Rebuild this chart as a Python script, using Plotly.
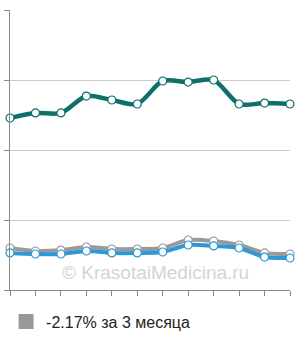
import plotly.graph_objects as go

months = list(range(12))
teal = [2.457, 2.529, 2.529, 2.771, 2.714, 2.657, 2.986, 2.971, 3.0, 2.657, 2.671, 2.657]
gray = [0.60, 0.557, 0.571, 0.614, 0.586, 0.586, 0.60, 0.714, 0.70, 0.643, 0.529, 0.514]
blue = [0.529, 0.514, 0.514, 0.557, 0.529, 0.529, 0.543, 0.643, 0.629, 0.60, 0.471, 0.457]
legend_label = "-2.17% за 3 месяца"
watermark = "© KrasotaiMedicina.ru"

fig = go.Figure()

def line(y, color, width=4):
    return go.Scatter(
        x=months, y=y, mode="lines+markers",
        line=dict(color=color, width=width, shape="spline", smoothing=0.8),
        marker=dict(size=8, color="white", line=dict(color=color, width=1.2)),
        showlegend=False, cliponaxis=False, hoverinfo="skip",
    )

fig.add_trace(line(gray, "#9a9a9a"))
fig.add_trace(line(blue, "#2e98d6"))
fig.add_trace(line(teal, "#0f6f6a", 4.5))
fig.add_trace(go.Scatter(
    x=[None], y=[None], mode="markers", name=legend_label,
    marker=dict(symbol="square", size=15, color="#999999"),
    showlegend=True,
))
# gridline helper axis
fig.add_trace(go.Scatter(x=[None], y=[None], yaxis="y2", showlegend=False))

fig.update_layout(
    width=300, height=340,
    margin=dict(l=10, r=10, t=10, b=50, autoexpand=False),
    paper_bgcolor="white", plot_bgcolor="white",
    font=dict(family="Liberation Sans, Arial, sans-serif", color="#222222"),
    xaxis=dict(range=[0, 11], tickvals=months, showticklabels=False,
               ticks="outside", ticklen=5, tickcolor="#888888",
               showline=True, linecolor="#888888", linewidth=1,
               showgrid=False, zeroline=False),
    yaxis=dict(range=[0, 4], tickvals=[0, 1, 2, 3, 4], showticklabels=False,
               ticks="outside", ticklen=5, tickcolor="#888888",
               showline=True, linecolor="#888888", linewidth=1,
               showgrid=False, zeroline=False),
    yaxis2=dict(range=[0, 4], overlaying="y", tickvals=[1, 2, 3],
                showticklabels=False, showgrid=True, gridcolor="#cccccc",
                gridwidth=1, zeroline=False, showline=False),
    legend=dict(x=-0.014, y=-0.052, xanchor="left", yanchor="top",
                font=dict(size=16, color="#222222"), itemwidth=30,
                bgcolor="rgba(0,0,0,0)"),
    annotations=[dict(text=watermark, x=0.52, y=0.061, xref="paper", yref="paper",
                      xanchor="center", yanchor="middle",
                      showarrow=False, font=dict(size=19, color="#d4d4d4"))],
)

fig.write_html("out.html")
